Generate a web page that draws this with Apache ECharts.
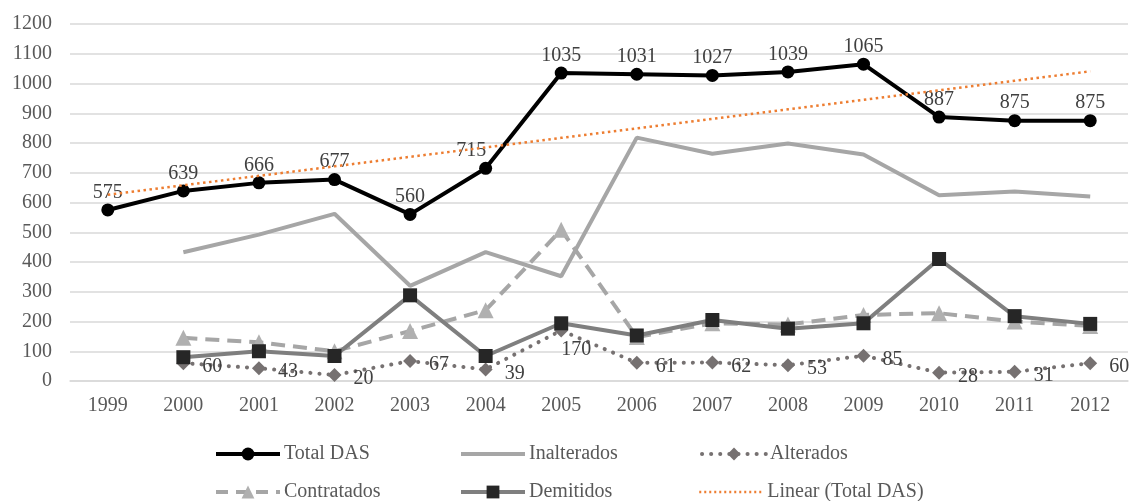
<!DOCTYPE html>
<html>
<head>
<meta charset="utf-8">
<script src="https://cdn.jsdelivr.net/npm/echarts@6/dist/echarts.min.js"></script>
<style>
  html, body { margin: 0; padding: 0; background: #fff; }
  #chart { width: 1132px; height: 501px; }
</style>
</head>
<body>
<div id="chart"></div>
<script>
const years = ['1999', '2000', '2001', '2002', '2003', '2004', '2005', '2006', '2007', '2008', '2009', '2010', '2011', '2012']
const totalDas    = [575, 639, 666, 677, 560, 715, 1035, 1031, 1027, 1039, 1065, 887, 875, 875]
const inalterados = [null, 433, 492, 562, 320, 433, 352, 818, 764, 798, 761, 624, 637, 620]
const alterados   = [null, 60, 43, 20, 67, 39, 170, 61, 62, 53, 85, 28, 31, 60]
const contratados = [null, 145, 130, 100, 168, 238, 508, 148, 194, 190, 222, 228, 200, 185]
const demitidos   = [null, 80, 100, 84, 288, 84, 194, 153, 205, 176, 194, 410, 218, 192]
const yTicks = { min: 0, max: 1200, interval: 100 }

// linha de tendência linear (mínimos quadrados sobre Total DAS)
function linearTrend(vals) {
  const n = vals.length
  let sx = 0, sy = 0, sxx = 0, sxy = 0
  vals.forEach((v, i) => {
    const x = i + 1
    sx += x; sy += v; sxx += x * x; sxy += x * v
  })
  const b = (n * sxy - sx * sy) / (n * sxx - sx * sx)
  const a = (sy - b * sx) / n
  return vals.map((v, i) => +(a + b * (i + 1)).toFixed(1))
}
const trend = linearTrend(totalDas)

const font = 'Liberation Serif'
const chart = echarts.init(document.getElementById('chart'))

function legendAt(name, left, top, line, noSymbol) {
  return {
    data: [name],
    left: left,
    top: top,
    padding: 0,
    itemWidth: 64,
    itemHeight: 16,
    itemGap: 0,
    lineStyle: line,
    itemStyle: noSymbol ? { opacity: 0 } : {},
    textStyle: { fontFamily: font, fontSize: 20, color: '#595959', padding: [0, 0, 0, -1] }
  }
}

const option = {
  backgroundColor: '#ffffff',
  animation: false,
  grid: { left: 70, right: 4, top: 24, bottom: 120 },
  legend: [
    legendAt('Total DAS', 214, 444, { width: 4, color: '#000' }),
    legendAt('Inalterados', 459, 444, { width: 4, color: '#a6a6a6' }, true),
    legendAt('Alterados', 700, 444, { width: 4, color: '#767171', type: [0.1, 9], cap: 'round' }),
    legendAt('Contratados', 214, 482, { width: 4, color: '#a6a6a6', type: [12, 8] }),
    legendAt('Demitidos', 459, 482, { width: 4, color: '#7f7f7f' }),
    legendAt('Linear (Total DAS)', 698, 482, { width: 2.5, color: '#ed7d31', type: [2, 3] }, true)
  ],
  xAxis: {
    type: 'category',
    data: years,
    axisLine: { show: true, lineStyle: { color: '#d9d9d9', width: 1.5 } },
    axisTick: { show: false },
    axisLabel: { fontFamily: font, fontSize: 20, color: '#595959', margin: 15 }
  },
  yAxis: {
    type: 'value',
    min: yTicks.min,
    max: yTicks.max,
    interval: yTicks.interval,
    axisLine: { show: false },
    axisTick: { show: false },
    axisLabel: {
      fontFamily: font, fontSize: 20, color: '#595959', margin: 18,
      formatter: v => String(v)
    },
    splitLine: { lineStyle: { color: '#d9d9d9', width: 1.5 } }
  },
  series: [
    {
      name: 'Inalterados',
      type: 'line',
      data: inalterados,
      symbol: 'none',
      lineStyle: { color: '#a6a6a6', width: 4 },
      itemStyle: { color: '#a6a6a6' },
      z: 2
    },
    {
      name: 'Alterados',
      type: 'line',
      data: alterados.map((v, i) => i === 6
        ? { value: v, label: { position: 'bottom', distance: 2, offset: [15, 0] } }
        : v),
      symbol: 'diamond',
      symbolSize: 14,
      lineStyle: { color: '#767171', width: 4, type: [0.1, 9], cap: 'round' },
      itemStyle: { color: '#767171' },
      label: {
        show: true,
        position: 'right',
        distance: 12,
        offset: [0, 4],
        fontFamily: font,
        fontSize: 20,
        color: '#404040'
      },
      z: 3
    },
    {
      name: 'Contratados',
      type: 'line',
      data: contratados,
      symbol: 'triangle',
      symbolSize: 16,
      lineStyle: { color: '#a6a6a6', width: 4, type: [14, 8] },
      itemStyle: { color: '#b0b0b0' },
      z: 4
    },
    {
      name: 'Demitidos',
      type: 'line',
      data: demitidos,
      symbol: 'rect',
      symbolSize: 14,
      lineStyle: { color: '#7f7f7f', width: 4 },
      itemStyle: { color: '#262626' },
      z: 5
    },
    {
      name: 'Total DAS',
      type: 'line',
      data: totalDas.map((v, i) => i === 5
        ? { value: v, label: { position: 'left', offset: [8, -18] } }
        : v),
      symbol: 'circle',
      symbolSize: 13,
      lineStyle: { color: '#000000', width: 4 },
      itemStyle: { color: '#000000' },
      label: {
        show: true,
        position: 'top',
        distance: 1,
        fontFamily: font,
        fontSize: 20,
        color: '#404040'
      },
      z: 6
    },
    {
      name: 'Linear (Total DAS)',
      type: 'line',
      data: trend,
      symbol: 'none',
      lineStyle: { color: '#ed7d31', width: 2.5, type: [2.5, 3.5] },
      itemStyle: { color: '#ed7d31' },
      z: 7
    }
  ]
}

chart.setOption(option)
</script>
</body>
</html>
